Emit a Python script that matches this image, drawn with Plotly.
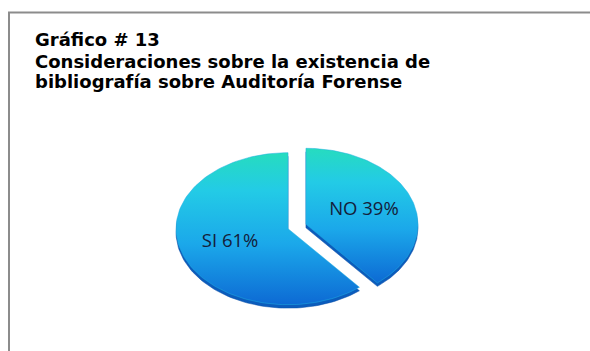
import numpy as np
import plotly.graph_objects as go

# ---- data -------------------------------------------------------------
labels = ["SI", "NO"]
values = [61, 39]
title_lines = [
    "Gráfico # 13",
    "Consideraciones sobre la existencia de",
    "bibliografía sobre Auditoría Forense",
]

# ---- geometry of the tilted (elliptical) pie, in pixels -----------------
W, H = 590, 351
CX, CY = 297, 226.5      # pie centre
RX, RY = 112, 76         # ellipse radii
EXPLODE = 0.085          # slice pull-out, in radius units
DEPTH = 3.5              # visible thickness of the pie, px
LABEL_R = 0.55           # label distance from centre, radius units

# axis units: 1 x-unit = RX px, 1 y-unit = RY px, origin at pie centre
x_range = [-CX / RX, (W - CX) / RX]
y_range = [(CY - H) / RY, CY / RY]

top_scale = [[0.0, "#0d6ad4"], [0.4, "#1ba8ea"], [0.75, "#23cbe6"], [1.0, "#26dcbf"]]
side_color = "#0b5cbc"

fig = go.Figure()

total = float(sum(values))
start = 0.0
label_x, label_y, label_txt = [], [], []
slices = []
for lab, val in zip(labels, values):
    sweep = 2 * np.pi * val / total
    # slices run counter-clockwise from 12 o'clock
    t = np.linspace(start, start - sweep, 120)
    mid = start - sweep / 2
    ox, oy = EXPLODE * np.sin(mid), EXPLODE * np.cos(mid)
    xs = np.concatenate([[ox], ox + np.sin(t), [ox]])
    ys = np.concatenate([[oy], oy + np.cos(t), [oy]])
    slices.append((xs, ys))
    label_x.append(ox + LABEL_R * np.sin(mid))
    label_y.append(oy + LABEL_R * np.cos(mid))
    label_txt.append(f"{lab} {val}%")
    start -= sweep

# side walls (the top faces shifted down by the pie thickness)
for xs, ys in slices:
    fig.add_trace(go.Scatter(
        x=xs, y=ys - DEPTH / RY, mode="lines", fill="toself",
        fillcolor=side_color, line=dict(width=0.5, color="#0a4fa6"),
        hoverinfo="skip", showlegend=False))

# top faces with vertical gradient
for (xs, ys), lab in zip(slices, labels):
    fig.add_trace(go.Scatter(
        x=xs, y=ys, mode="lines", fill="toself",
        fillgradient=dict(type="vertical", colorscale=top_scale),
        line=dict(width=0.5, color="#1eaee0"),
        name=lab, hoverinfo="skip", showlegend=False))

# data labels
fig.add_trace(go.Scatter(
    x=label_x, y=label_y, mode="text", text=label_txt,
    textposition="middle center",
    textfont=dict(family="Open Sans, Noto Sans, sans-serif", size=18.5, color="#14203a"),
    hoverinfo="skip", showlegend=False))

# title, one annotation per line
title_y = [39.5, 61, 81.5]
for line, py in zip(title_lines, title_y):
    fig.add_annotation(
        text=f"<b>{line}</b>", xref="paper", yref="paper",
        x=33 / W, y=1 - py / H, xanchor="left", yanchor="middle",
        showarrow=False,
        font=dict(family="DejaVu Sans, Verdana, sans-serif", size=18, color="#000000"))

# chart-area frame (runs off the right and bottom edges)
fig.add_shape(type="rect", xref="paper", yref="paper",
              x0=9 / W, x1=1.05, y0=-0.05, y1=1 - 12.5 / H,
              line=dict(color="#8c8c8c", width=2), fillcolor="rgba(0,0,0,0)")

fig.update_layout(
    width=W, height=H,
    margin=dict(l=0, r=0, t=0, b=0),
    paper_bgcolor="white", plot_bgcolor="white",
    xaxis=dict(range=x_range, visible=False, fixedrange=True, domain=[0, 1]),
    yaxis=dict(range=y_range, visible=False, fixedrange=True, domain=[0, 1]),
)

fig.write_html("out.html")
